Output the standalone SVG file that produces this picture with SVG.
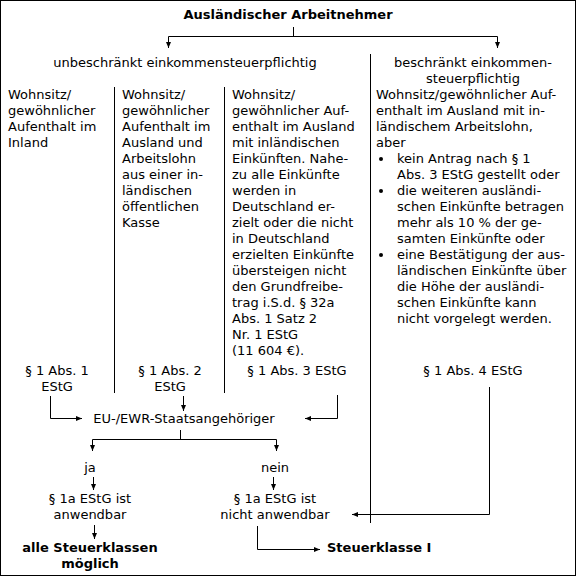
<svg xmlns="http://www.w3.org/2000/svg" width="577" height="577" viewBox="0 0 577 577">
<style>
text{font-family:"DejaVu Sans",Verdana,sans-serif;font-size:13px;fill:#000}
.b{font-weight:bold}
.m{text-anchor:middle}
.ln{stroke:#000;stroke-width:1;fill:none}
.ar{stroke:#000;stroke-width:1;fill:none;marker-end:url(#ah)}
</style>
<defs>
<marker id="ah" markerUnits="userSpaceOnUse" markerWidth="8" markerHeight="8" viewBox="0 0 8 8" refX="6" refY="4" orient="auto">
<path d="M0,1.5 L6,4 L0,6.5 z" fill="#000"/>
</marker>
</defs>
<rect x="0.5" y="0.5" width="575" height="575" fill="#fff" stroke="#000"/>
<g id="separators">
<line class="ln" x1="114.5" y1="87" x2="114.5" y2="393"/>
<line class="ln" x1="224.5" y1="87" x2="224.5" y2="393"/>
<line class="ln" x1="370.5" y1="54" x2="370.5" y2="523"/>
</g>
<g id="connectors">
<path class="ln" d="M293.5,27 V36.5 M168.5,36.5 H497.5"/>
<path class="ar" d="M168.5,36.5 V48"/>
<path class="ar" d="M497.5,36.5 V48"/>
<path class="ar" d="M50.5,396 V418.5 H82"/>
<path class="ar" d="M183.5,396 V411"/>
<path class="ar" d="M337.5,395 V418.5 H305"/>
<path class="ar" d="M489.5,387 V514.5 H352"/>
<path class="ln" d="M180.5,430 V439.5 M92.5,439.5 H276.5"/>
<path class="ar" d="M92.5,439.5 V451"/>
<path class="ar" d="M276.5,439.5 V451"/>
<path class="ar" d="M93.5,477 V490"/>
<path class="ar" d="M273.5,477 V490"/>
<path class="ar" d="M94.5,525 V539"/>
<path class="ar" d="M257.5,526 V549.5 H320"/>
</g>
<g id="title"><text class="b m" x="288" y="19">Ausländischer Arbeitnehmer</text></g>
<g id="unbeschraenkt"><text class="m" x="185" y="67">unbeschränkt einkommensteuerpflichtig</text></g>
<g id="col1">
<text x="8" y="99">Wohnsitz/</text>
<text x="8" y="115">gewöhnlicher</text>
<text x="8" y="131">Aufenthalt im</text>
<text x="8" y="147">Inland</text>
</g>
<g id="col2">
<text x="122" y="99">Wohnsitz/</text>
<text x="122" y="115">gewöhnlicher</text>
<text x="122" y="131">Aufenthalt im</text>
<text x="122" y="147">Ausland und</text>
<text x="122" y="163">Arbeitslohn</text>
<text x="122" y="179">aus einer in-</text>
<text x="122" y="195">ländischen</text>
<text x="122" y="211">öffentlichen</text>
<text x="122" y="227">Kasse</text>
</g>
<g id="col3">
<text x="232" y="99">Wohnsitz/</text>
<text x="232" y="115">gewöhnlicher Auf-</text>
<text x="232" y="131">enthalt im Ausland</text>
<text x="232" y="147">mit inländischen</text>
<text x="232" y="163">Einkünften. Nahe-</text>
<text x="232" y="179">zu alle Einkünfte</text>
<text x="232" y="195">werden in</text>
<text x="232" y="211">Deutschland er-</text>
<text x="232" y="227">zielt oder die nicht</text>
<text x="232" y="243">in Deutschland</text>
<text x="232" y="259">erzielten Einkünfte</text>
<text x="232" y="275">übersteigen nicht</text>
<text x="232" y="291">den Grundfreibe-</text>
<text x="232" y="307">trag i.S.d. § 32a</text>
<text x="232" y="323">Abs. 1 Satz 2</text>
<text x="232" y="339">Nr. 1 EStG</text>
<text x="232" y="355">(11 604 €).</text>
</g>
<g id="beschraenkt">
<text class="m" x="473" y="67">beschränkt einkommen-</text>
<text class="m" x="473" y="83">steuerpflichtig</text>
<text x="376" y="99">Wohnsitz/gewöhnlicher Auf-</text>
<text x="376" y="115">enthalt im Ausland mit in-</text>
<text x="376" y="131">ländischem Arbeitslohn,</text>
<text x="376" y="147">aber</text>
<circle cx="381" cy="159" r="2" fill="#000"/>
<text x="397" y="163">kein Antrag nach § 1</text>
<text x="397" y="179">Abs. 3 EStG gestellt oder</text>
<circle cx="381" cy="191" r="2" fill="#000"/>
<text x="397" y="195">die weiteren ausländi-</text>
<text x="397" y="211">schen Einkünfte betragen</text>
<text x="397" y="227">mehr als 10 % der ge-</text>
<text x="397" y="243">samten Einkünfte oder</text>
<circle cx="381" cy="255" r="2" fill="#000"/>
<text x="397" y="259">eine Bestätigung der aus-</text>
<text x="397" y="275">ländischen Einkünfte über</text>
<text x="397" y="291">die Höhe der ausländi-</text>
<text x="397" y="307">schen Einkünfte kann</text>
<text x="397" y="323">nicht vorgelegt werden.</text>
</g>
<g id="abs1"><text class="m" x="57" y="375">§ 1 Abs. 1</text><text class="m" x="57" y="391">EStG</text></g>
<g id="abs2"><text class="m" x="170" y="375">§ 1 Abs. 2</text><text class="m" x="170" y="391">EStG</text></g>
<g id="abs3"><text class="m" x="297" y="375">§ 1 Abs. 3 EStG</text></g>
<g id="abs4"><text class="m" x="473" y="375">§ 1 Abs. 4 EStG</text></g>
<g id="eu"><text class="m" x="184" y="423">EU-/EWR-Staatsangehöriger</text></g>
<g id="ja"><text class="m" x="90" y="472">ja</text></g>
<g id="nein"><text class="m" x="275" y="472">nein</text></g>
<g id="anwendbar"><text class="m" x="90" y="503">§ 1a EStG ist</text><text class="m" x="90" y="519">anwendbar</text></g>
<g id="nichtanwendbar"><text class="m" x="275" y="503">§ 1a EStG ist</text><text class="m" x="275" y="519">nicht anwendbar</text></g>
<g id="alle"><text class="b m" x="90" y="552">alle Steuerklassen</text><text class="b m" x="90" y="568">möglich</text></g>
<g id="stk1"><text class="b" x="327" y="552">Steuerklasse I</text></g>
</svg>
